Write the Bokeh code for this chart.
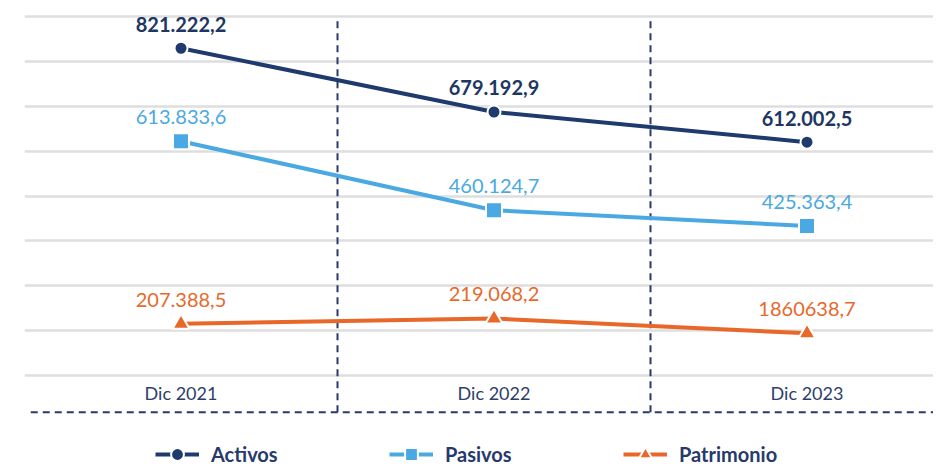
import numpy as np
from bokeh.plotting import figure
from bokeh.models import Range1d, FixedTicker, Legend, LegendItem
from bokeh.core.properties import value
from bokeh.embed import file_html
from bokeh.resources import INLINE

# ---------------- data ----------------
categories = ["Dic 2021", "Dic 2022", "Dic 2023"]
activos = [821222.2, 679192.9, 612002.5]
pasivos = [613833.6, 460124.7, 425363.4]
patrimonio = [207388.5, 219068.2, 186063.7]
activos_labels = ["821.222,2", "679.192,9", "612.002,5"]
pasivos_labels = ["613.833,6", "460.124,7", "425.363,4"]
patrimonio_labels = ["207.388,5", "219.068,2", "1860638,7"]
series_names = ["Activos", "Pasivos", "Patrimonio"]

# ---------------- layout constants ----------------
W, H = 933, 466
LEFT = 24            # frame starts 24px into the figure
CAT_PX = 313         # pixels per category
GRID_BASE = 92000    # value of lowest grid line
GRID_STEP = 100000
N_GRID = 9
PX_STEP = 44.875     # pixels per grid step
GRID_BOTTOM_PX = 375 # lowest grid line, px from figure top

frame_w = W - LEFT
x_start, x_end = 0.0, frame_w / CAT_PX
y_top = GRID_BASE + GRID_STEP * GRID_BOTTOM_PX / PX_STEP
y_bottom = GRID_BASE - GRID_STEP * (H - GRID_BOTTOM_PX) / PX_STEP

NAVY = "#1f3a6d"
NAVY_TXT = "#1d3762"
BLUE = "#4aa9e2"
ORANGE = "#e8682a"
DASH = "#2b3a6b"
FONT = "Lato"

xc = np.arange(len(categories)) + 0.5

p = figure(width=W, height=H, x_range=Range1d(x_start, x_end),
           y_range=Range1d(y_bottom, y_top), output_backend="svg",
           toolbar_location=None, min_border_left=LEFT, min_border_right=0,
           min_border_top=0, min_border_bottom=0)
p.xaxis.visible = False
p.yaxis.visible = False
p.xgrid.visible = False
p.yaxis.ticker = FixedTicker(ticks=[GRID_BASE + i * GRID_STEP for i in range(N_GRID)])
p.ygrid.grid_line_color = "#dedede"
p.ygrid.grid_line_width = 2.5
p.outline_line_color = None
p.background_fill_color = "white"
p.border_fill_color = "white"

top_val = GRID_BASE + (N_GRID - 1) * GRID_STEP
bottom_dash = GRID_BASE - 0.82 * GRID_STEP
label_y = GRID_BASE - 0.38 * GRID_STEP

# vertical dashed separators between categories
bounds = np.arange(1, len(categories))
p.segment(x0=bounds, x1=bounds, y0=[bottom_dash] * len(bounds), y1=[top_val] * len(bounds),
          line_color=DASH, line_width=2, line_dash="7 5")
# bottom dashed baseline
p.segment(x0=[0.02], x1=[x_end], y0=[bottom_dash], y1=[bottom_dash],
          line_color=DASH, line_width=2, line_dash="7 5")

# category labels
p.text(x=xc, y=[label_y] * len(categories), text=categories, text_font=value(FONT),
       text_font_size="18px", text_color="#2d3e6b", text_align="center",
       text_baseline="middle")

items = []
specs = [
    (activos, activos_labels, NAVY, NAVY_TXT, "circle", 13, "bold"),
    (pasivos, pasivos_labels, BLUE, BLUE, "square", 16, "normal"),
    (patrimonio, patrimonio_labels, ORANGE, ORANGE, "triangle", 17, "normal"),
]
for name, (vals, labs, col, tcol, mk, sz, fstyle) in zip(series_names, specs):
    ln = p.line(xc, vals, line_color=col, line_width=4)
    sc = p.scatter(xc, vals, marker=mk, size=sz, fill_color=col,
                   line_color="white", line_width=2)
    p.text(x=xc, y=vals, text=labs, text_font=value(FONT), text_font_size="20px",
           text_font_style=fstyle, text_color=tcol, text_align="center",
           text_baseline="middle", y_offset=-24)
    items.append(LegendItem(label=name, renderers=[ln, sc]))

legend = Legend(items=items, orientation="horizontal", location=(131, -4),
                glyph_width=44, glyph_height=32, label_standoff=12,
                label_width=150, spacing=28, padding=0, margin=0,
                border_line_color=None, background_fill_alpha=0,
                label_text_font=FONT, label_text_font_size="20px",
                label_text_font_style="bold", label_text_color="#263a6b")
p.add_layout(legend)

open("out.html", "w").write(file_html(p, INLINE))
